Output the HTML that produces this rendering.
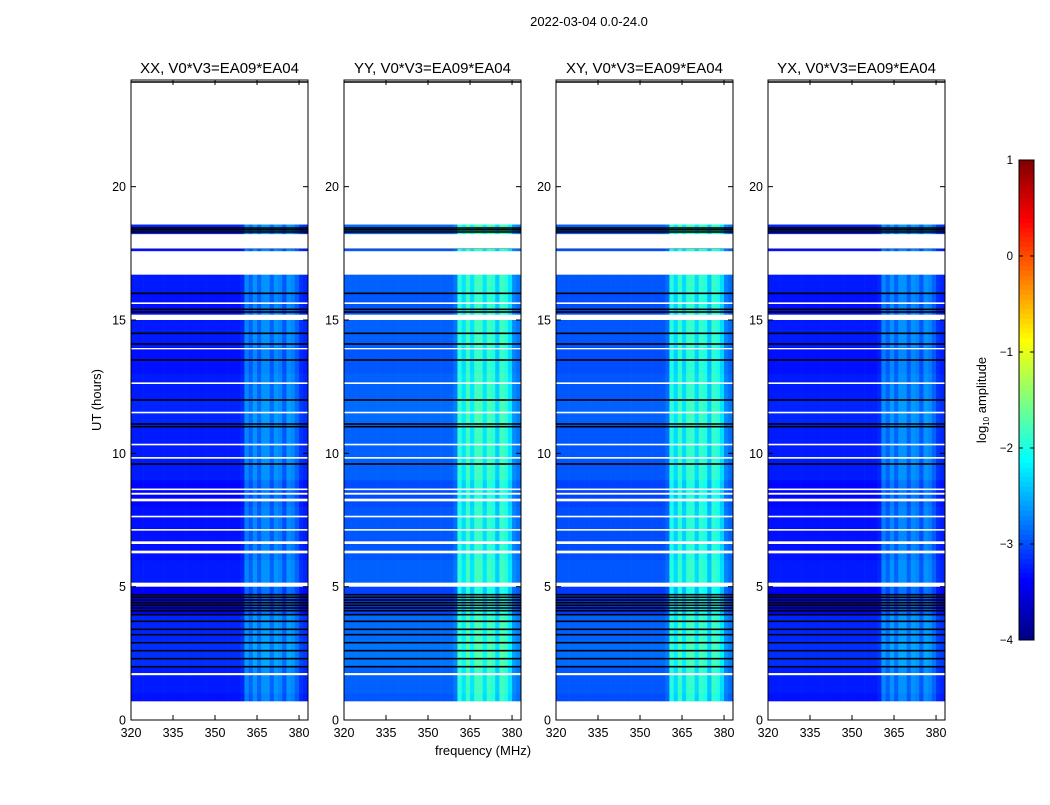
<!DOCTYPE html>
<html><head><meta charset="utf-8"><style>
body{margin:0;background:#fff;font-family:"Liberation Sans",sans-serif;}
svg text{font-family:"Liberation Sans",sans-serif;}
</style></head><body>
<svg id="chart" width="1050" height="800" xmlns="http://www.w3.org/2000/svg">
<text x="589" y="26" font-size="13" text-anchor="middle">2022-03-04 0.0-24.0</text>
<text transform="translate(101,400) rotate(-90)" font-size="13" text-anchor="middle">UT (hours)</text>
<text x="483" y="755" font-size="13" text-anchor="middle">frequency (MHz)</text>
<g id="panels"></g>
<g id="cbar"></g>
</svg>
<script>
// ---- data ----
const panelTitles = ["XX, V0*V3=EA09*EA04","YY, V0*V3=EA09*EA04","XY, V0*V3=EA09*EA04","YX, V0*V3=EA09*EA04"];
const panelBase = [-3.3,-2.95,-3.0,-3.3];
const panelBand = [0.6,1.1,1.1,0.6];
const panelLeft = [131,344,556,768];
// channel profile (1.5 MHz channels from 320 MHz): 0 = off-band, 1 = full band brightness
const chanProfile = [0,0,0,0,0,0,0,0,0,0,0,0,0,0,0,0,0,0,0,0,0,0,0,0,0,0,0.1,0.9,0.6,1.0,0.6,1.0,1.0,0.6,1.0,0.9,0.5,1.0,0.9,0.6,0.2,0.1,0.05];
// hourly level modulation (0h .. 18h)
const hourLevel = [0,0.05,0.15,0.1,-0.1,0.05,0.0,0.0,-0.05,0.05,0.05,0.1,0.05,0.0,0.05,0.0,0.05,0.0,0.1];
// flagged (white) intervals in hours
const whiteGaps = [[0,0.7],[1.68,1.76],[5.0,5.15],[6.25,6.35],[6.6,6.7],[7.1,7.16],[7.6,7.66],[8.2,8.3],[8.45,8.52],[8.62,8.68],[9.8,9.86],[10.3,10.36],[11.5,11.56],[12.6,12.66],[13.9,13.95],[15.0,15.2],[15.6,15.66],[16.7,17.58],[17.68,18.22],[18.58,24]];
// dark (black) lines in hours
const blackLines = [2.0,2.3,2.6,2.9,3.2,3.4,3.7,3.95,4.1,4.2,4.3,4.4,4.5,4.6,4.7,9.6,11.0,11.1,12.0,13.5,14.1,14.5,15.3,15.4,16.0,17.7,18.3,18.38,18.45];
const cbTicks = [1,0,-1,-2,-3,-4];
const xTicks = [320,335,350,365,380];
const yTicks = [0,5,10,15,20];
// ---- scales ----
const T=80,B=720,W=177, F0=320, F1=383.2, CH=1.5, DT=0.2;
const yS=h=>B-(h/24)*(B-T);
const xS=(f,p)=>panelLeft[p]+(f-F0)/(F1-F0)*W;
function jet(v){let t=(v+4)/5;t=Math.max(0,Math.min(1,t));
 const c=x=>Math.round(255*Math.max(0,Math.min(1,1.5-Math.abs(x))));
 return `rgb(${c(4*t-3)},${c(4*t-2)},${c(4*t-1)})`;}
const NS="http://www.w3.org/2000/svg";
function el(tag,attrs,parent){const e=document.createElementNS(NS,tag);for(const k in attrs)e.setAttribute(k,attrs[k]);parent.appendChild(e);return e;}
const gp=document.getElementById('panels');
const NROW=Math.round(24/DT);
for(let p=0;p<4;p++){
 const g=el('g',{},gp);
 
 
 for(let i=0;i<NROW;i++){
  const h=i*DT;
  const lvl=panelBase[p]+hourLevel[Math.min(hourLevel.length-1,Math.floor(h))];
  for(let c=0;c<chanProfile.length;c++){
   const f=F0+c*CH; if(f>=F1)break;
   const v=lvl+panelBand[p]*chanProfile[c];
   const x0=xS(f,p),x1=Math.min(xS(f+CH,p),panelLeft[p]+W);
   const r=el('rect',{x:x0,y:yS(h+DT),width:Math.min(x1-x0+0.3,panelLeft[p]+W-x0),height:yS(h)-yS(h+DT)+0.3,fill:jet(v)},g);
   
   
  }
 }
 for(const b of blackLines){
  const l=el('rect',{x:panelLeft[p],y:yS(b)-0.8,width:W,height:1.6,fill:'#000'},g);
  
  
 }
 for(const gg of whiteGaps){
  const w=el('rect',{x:panelLeft[p],y:yS(gg[1]),width:W,height:yS(gg[0])-yS(gg[1]),fill:'#fff'},g);
  
  
 }
 const fr=el('rect',{x:panelLeft[p],y:T,width:W,height:B-T,fill:'none',stroke:'#000','stroke-width':1},g);
 
 
 el('line',{x1:panelLeft[p],x2:panelLeft[p]+W,y1:T+2,y2:T+2,stroke:'#000','stroke-width':1.5},g);
 const tt=el('text',{x:panelLeft[p]+W/2,y:73,'font-size':15,'text-anchor':'middle'},g);
 tt.textContent=panelTitles[p];
 
 
 for(const f of xTicks){const x=xS(f,p);
  el('line',{x1:x,x2:x,y1:B,y2:B-5,stroke:'#000'},g);el('line',{x1:x,x2:x,y1:T,y2:T+5,stroke:'#000'},g);
  const t=el('text',{x:x,y:737,'font-size':12.5,'text-anchor':'middle'},g);t.textContent=f;
  
  }
 for(const h of yTicks){const y=yS(h);
  el('line',{x1:panelLeft[p],x2:panelLeft[p]+5,y1:y,y2:y,stroke:'#000'},g);el('line',{x1:panelLeft[p]+W,x2:panelLeft[p]+W-5,y1:y,y2:y,stroke:'#000'},g);
  const t=el('text',{x:panelLeft[p]-5,y:y+4.5,'font-size':12.5,'text-anchor':'end'},g);t.textContent=h;
  
  }
}
// colorbar
const cb=document.getElementById('cbar');const CT=160,CB=640,CX=1019,CW=15;
const cy=v=>CB-(v+4)/5*(CB-CT);
for(let i=0;i<100;i++){const v=-4+i*0.05;el('rect',{x:CX,y:cy(v+0.05),width:CW,height:cy(v)-cy(v+0.05)+0.5,fill:jet(v+0.025)},cb);}
el('rect',{x:CX,y:CT,width:CW,height:CB-CT,fill:'none',stroke:'#000'},cb);
for(const v of cbTicks){const y=cy(v);
 el('line',{x1:CX,x2:CX+4,y1:y,y2:y,stroke:'#000'},cb);el('line',{x1:CX+CW,x2:CX+CW-4,y1:y,y2:y,stroke:'#000'},cb);
 const t=el('text',{x:1013,y:y+4,'font-size':11.5,'text-anchor':'end'},cb);t.textContent=v<0?'\u2212'+(-v):v;
 
 }
const cl=el('text',{transform:'translate(986,400) rotate(-90)','font-size':13,'text-anchor':'middle'},cb);
cl.innerHTML='log<tspan font-size="8" dy="3">10</tspan><tspan dy="-3"> amplitude</tspan>';


</script>
</body></html>
